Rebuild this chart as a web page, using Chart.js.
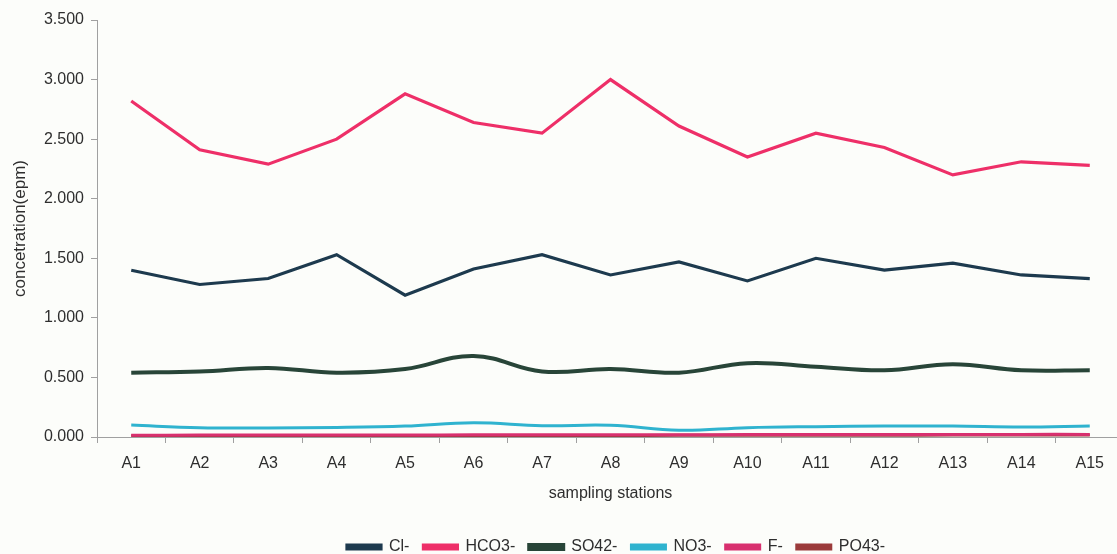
<!DOCTYPE html>
<html>
<head>
<meta charset="utf-8">
<script src="https://cdn.jsdelivr.net/npm/chart.js@4/dist/chart.umd.min.js"></script>
<style>
  html, body { margin: 0; padding: 0; background: #fcfdfa; overflow: hidden; }
  #wrap { width: 1124px; height: 554px; }
</style>
</head>
<body>
<div id="wrap"><canvas id="c" width="1124" height="554"></canvas></div>
<script>
// Sampling stations along the x axis
const stations = ['A1','A2','A3','A4','A5','A6','A7','A8','A9','A10','A11','A12','A13','A14','A15'];

// Ion concentrations (epm) per station
const chloride    = [1.40, 1.28, 1.33, 1.53, 1.19, 1.41, 1.53, 1.36, 1.47, 1.31, 1.50, 1.40, 1.46, 1.36, 1.33];
const bicarbonate = [2.82, 2.41, 2.29, 2.50, 2.88, 2.64, 2.55, 3.00, 2.61, 2.35, 2.55, 2.43, 2.20, 2.31, 2.28];
const sulphate    = [0.54, 0.55, 0.58, 0.54, 0.57, 0.68, 0.55, 0.57, 0.54, 0.62, 0.59, 0.56, 0.61, 0.56, 0.56];
const nitrate     = [0.100, 0.078, 0.076, 0.080, 0.092, 0.120, 0.095, 0.098, 0.056, 0.078, 0.087, 0.092, 0.092, 0.084, 0.092];
const fluoride    = [0.015, 0.016, 0.016, 0.017, 0.017, 0.018, 0.018, 0.019, 0.019, 0.020, 0.020, 0.021, 0.021, 0.022, 0.022];
const phosphate   = [0.010, 0.010, 0.011, 0.011, 0.012, 0.012, 0.013, 0.013, 0.014, 0.014, 0.015, 0.015, 0.016, 0.016, 0.017];

// Y axis ticks
const yMin = 0, yMax = 3.5, yStep = 0.5;

const font = 'Liberation Sans, Arial, sans-serif';
const textColor = '#2e2e2e';
const axisColor = '#a0a0a0';

function series(label, data, color, width, tension) {
  return {
    label, data,
    borderColor: color, backgroundColor: color,
    borderWidth: width, tension,
    pointRadius: 0, pointHoverRadius: 0, fill: false
  };
}

// Move the legend row down toward the bottom edge and a bit to the right
const legendShift = {
  id: 'legendShift',
  afterLayout(chart) {
    const lg = chart.legend;
    if (!lg) return;
    const dx = 50, dy = 11;
    lg.top += dy; lg.bottom += dy;
    lg.left += dx; lg.right += dx;
    (lg.legendHitBoxes || []).forEach(b => { b.top += dy; b.left += dx; });
  }
};

new Chart(document.getElementById('c'), {
  type: 'line',
  data: {
    labels: stations,
    datasets: [
      series('Cl-',    chloride,    '#1d3a4e', 3.2, 0),
      series('HCO3-',  bicarbonate, '#ee2f68', 3.2, 0),
      series('SO42-',  sulphate,    '#284538', 4,   0.4),
      series('NO3-',   nitrate,     '#2fb3cf', 3,   0.4),
      series('F-',     fluoride,    '#d8306f', 3,   0.4),
      series('PO43-',  phosphate,   '#9b3b3b', 3,   0.4)
    ]
  },
  plugins: [legendShift],
  options: {
    responsive: false,
    animation: false,
    layout: { padding: { left: 8, right: 0, top: 20, bottom: 0 } },
    plugins: {
      legend: {
        position: 'bottom',
        labels: {
          font: { family: font, size: 16 },
          color: textColor,
          boxWidth: 34,
          boxHeight: 4,
          padding: 14
        }
      },
      tooltip: { enabled: false }
    },
    scales: {
      x: {
        offset: true,
        grid: { offset: true, drawOnChartArea: false, drawTicks: true, tickLength: 6, color: axisColor },
        border: { color: axisColor },
        ticks: { font: { family: font, size: 16 }, color: textColor, padding: 11 },
        title: { display: true, text: 'sampling stations', font: { family: font, size: 16 }, color: textColor, padding: { top: 4, bottom: 11 } },
        afterFit: (s) => { s.height = 77; }
      },
      y: {
        min: yMin, max: yMax,
        grid: { drawOnChartArea: false, drawTicks: true, tickLength: 6, color: axisColor },
        border: { color: axisColor },
        ticks: {
          stepSize: yStep,
          font: { family: font, size: 16 },
          color: textColor,
          padding: 7,
          callback: (v) => Number(v).toFixed(3)
        },
        title: { display: true, text: 'concetration(epm)', font: { family: font, size: 17 }, color: textColor, padding: { top: 2, bottom: 4 } },
        afterFit: (s) => { s.width = 89; }
      }
    }
  }
});
</script>
</body>
</html>
